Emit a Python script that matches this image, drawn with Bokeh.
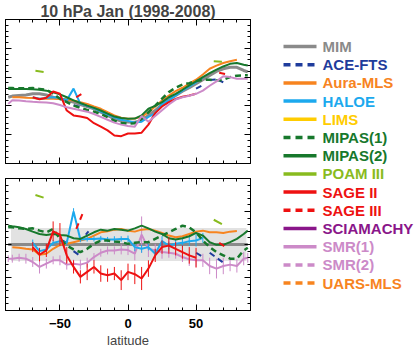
import math
from bokeh.plotting import figure
from bokeh.layouts import row, column
from bokeh.models import LinearAxis, FixedTicker, ColumnDataSource, Range1d
from bokeh.embed import file_html
from bokeh.resources import INLINE
from bokeh.core.properties import value

nan = float("nan")

LAT = [-88, -85, -80, -75, -70, -65, -60, -55, -50, -45, -40, -35, -30, -25, -20, -15, -10, -5,
       0, 5, 10, 15, 20, 25, 30, 35, 40, 45, 50, 55, 60, 65, 70, 75, 80, 85, 88]

# ---- top panel (absolute values) ----
MIM_TOP = [7.30, 7.34, 7.36, 7.38, 7.42, 7.42, 7.38, 7.30, 7.25, 7.19, 7.13, 7.05, 6.98, 6.90, 6.78, 6.67, 6.55, 6.47,
           6.44, 6.43, 6.49, 6.67, 6.84, 7.05, 7.21, 7.36, 7.51, 7.63, 7.77, 7.91, 8.06, 8.20, 8.29, 8.34, 8.34, 8.23, 8.18]
AURA_TOP = [nan, 7.30, 7.30, 7.28, 7.27, 7.25, 7.25, 7.25, 7.24, 7.22, 7.19, 7.13, 7.07, 6.98, 6.90, 6.78, 6.67, 6.59,
            6.55, 6.56, 6.62, 6.78, 6.98, 7.19, 7.36, 7.51, 7.63, 7.77, 7.91, 8.09, 8.29, 8.40, 8.49, 8.55, 8.60, nan, nan]
MIPAS2_TOP = [7.59, 7.59, 7.59, 7.59, 7.58, 7.56, 7.53, 7.47, 7.40, 7.30, 7.19, 7.10, 7.01, 6.93, 6.84, 6.73, 6.63, 6.58,
              6.55, 6.56, 6.67, 6.90, 7.00, 7.13, 7.30, 7.42, 7.56, 7.71, 7.85, 8.00, 8.14, 8.26, 8.37, 8.46, 8.49, 8.43, 8.40]
MIPAS1_TOP = [7.62, 7.62, 7.61, 7.61, 7.62, 7.59, 7.56, 7.42, 7.25, 7.13, 7.01, 6.93, 6.86, 6.80, 6.72, 6.61, 6.49, 6.41,
              6.38, 6.40, 6.55, 6.78, 7.01, 7.25, 7.48, 7.63, 7.74, 7.79, 7.86, 7.91, 7.91, 7.88, 7.91, 8.00, 8.05, 8.06, 8.06]
HALOE_TOP = [nan, nan, nan, nan, 7.30, 7.25, 7.27, 7.30, 7.27, 7.20, 7.60, 7.07, 7.00, 6.92, 6.80, 6.70, 6.60, 6.52,
             6.48, 6.42, 6.45, 6.62, 6.74, 7.07, 7.19, 7.36, 7.53, 7.68, 7.82, 7.98, nan, nan, nan, nan, nan, nan, nan]
SAGE2_TOP = [nan, nan, nan, nan, 7.30, 7.23, 7.28, 7.50, 7.42, 6.84, 6.67, 6.63, 6.58, 6.40, 6.28, 6.15, 5.97, 5.95,
             6.04, 6.04, 6.07, 6.35, 6.75, 6.98, 7.13, 7.24, 7.32, 7.36, 7.42, nan, nan, nan, nan, nan, nan, nan, nan]
SMR1_TOP = [7.07, 7.20, 7.19, 7.16, 7.14, 7.13, 7.12, 7.09, 7.03, 6.95, 6.90, 6.85, 6.80, 6.72, 6.62, 6.52, 6.42, 6.35,
            6.30, 6.28, 6.65, 6.45, 6.65, 6.85, 7.05, 7.22, 7.30, 7.35, 7.42, 7.53, 7.70, 7.85, 8.03, 8.00, 7.94, 7.94, 7.94]

# ---- bottom panel (relative differences) ----
MIM_BOT = [0.0] * len(LAT)
AURA_BOT = [nan, -0.08, -0.10, -0.13, -0.15, -0.31, -0.28, -0.13, -0.01, 0.02, 0.07, 0.12, 0.17, 0.27, 0.37, 0.40, 0.45, 0.47,
            0.42, 0.39, 0.45, 0.47, 0.42, 0.35, 0.27, 0.22, 0.25, 0.32, 0.39, 0.42, 0.37, 0.37, 0.35, 0.39, 0.41, nan, nan]
MIPAS2_BOT = [0.57, 0.55, 0.52, 0.47, 0.39, 0.32, 0.29, 0.32, 0.29, 0.27, 0.19, 0.17, 0.27, 0.37, 0.45, 0.42, 0.47, 0.45,
              0.42, 0.49, 0.57, 0.49, 0.39, 0.32, 0.19, 0.15, 0.19, 0.25, 0.35, 0.27, 0.07, -0.01, -0.01, 0.07, 0.17, 0.32, 0.42]
MIPAS1_BOT = [0.52, 0.52, 0.49, 0.47, 0.49, 0.42, 0.37, 0.47, 0.17, -0.03, -0.15, -0.23, -0.13, 0.02, 0.12, 0.12, 0.09, 0.07,
              0.02, 0.05, 0.07, 0.07, 0.17, 0.27, 0.37, 0.47, 0.57, 0.52, 0.37, 0.12, -0.08, -0.23, -0.33, -0.43, -0.43, -0.18, -0.10]
HALOE_BOT = [nan, nan, nan, nan, 0.05, -0.20, -0.15, 0.05, 0.10, 0.05, 1.00, 0.15, 0.17, 0.17, 0.18, 0.15, 0.15, 0.17,
             0.17, -0.08, -0.13, -0.08, -0.28, 0.10, -0.03, 0.02, 0.05, 0.10, 0.12, 0.20, nan, nan, nan, nan, nan, nan, nan]
HALOE_ERR = [nan, nan, nan, nan, 0.10, 0.10, 0.08, 0.08, 0.10, 0.08, 0.10, 0.08, 0.08, 0.08, 0.08, 0.08, 0.10, 0.08,
             0.10, 0.12, 0.12, 0.10, 0.12, 0.15, 0.12, 0.12, 0.15, 0.15, 0.18, 0.15, nan, nan, nan, nan, nan, nan, nan]
SAGE2_BOT = [nan, nan, nan, nan, -0.08, -0.31, -0.18, 0.40, 0.30, -0.33, -0.68, -0.98, -0.83, -0.68, -0.88, -0.93, -0.88, -1.08,
             -0.83, -0.90, -1.03, -0.73, -0.33, -0.08, -0.03, -0.13, -0.23, -0.33, -0.40, nan, nan, nan, nan, nan, nan, nan, nan]
SAGE2_ERR = [nan, nan, nan, nan, 0.15, 0.20, 0.20, 0.30, 0.35, 0.25, 0.20, 0.20, 0.25, 0.20, 0.25, 0.20, 0.20, 0.30,
             0.25, 0.30, 0.35, 0.25, 0.20, 0.20, 0.25, 0.20, 0.20, 0.25, 0.30, nan, nan, nan, nan, nan, nan, nan, nan]
SMR1_BOT = [-0.43, -0.43, -0.40, -0.43, -0.53, -0.68, -0.58, -0.48, -0.48, -0.61, -0.58, -0.61, -0.55, -0.38, -0.25, -0.18, -0.18, -0.15,
            -0.17, -0.28, 0.30, -0.13, -0.18, -0.23, -0.25, -0.28, -0.38, -0.45, -0.48, -0.48, -0.65, -0.73, -0.65, -0.61, -0.65, -0.43, -0.40]
SMR1_ERR = [0.10, 0.12, 0.12, 0.15, 0.15, 0.20, 0.15, 0.12, 0.15, 0.15, 0.12, 0.15, 0.15, 0.12, 0.12, 0.12, 0.12, 0.15,
            0.15, 0.20, 0.55, 0.25, 0.20, 0.20, 0.15, 0.15, 0.15, 0.20, 0.20, 0.20, 0.25, 0.30, 0.25, 0.20, 0.20, 0.20, 0.15]

# ---- sparse instruments ----
ACE_LAT = [-48, -44, nan, -40, -35, nan, -31, -29, nan, 50, 54, nan, 60, 65, 70]
ACE_TOP = [7.24, 7.19, nan, 7.02, 6.96, nan, 7.00, 7.05, nan, 7.60, 7.70, nan, 7.90, 7.92, 7.82]
ACE_BOT = [0.12, 0.02, nan, -0.20, -0.35, nan, 0.30, 0.40, nan, -0.25, -0.35, nan, -0.25, -0.40, -0.55]
SAGE3_LAT = [-38, -33, nan, 67, 72]
SAGE3_TOP = [7.30, 7.45, nan, 8.15, 8.10]
SAGE3_BOT = [0.47, 0.97, nan, 0.05, -0.08]
POAM_LAT = [-68, -62, nan, 63, 69]
POAM_TOP = [8.22, 8.18, nan, 8.55, 8.53]
POAM_BOT = [1.50, 1.42, nan, 0.75, 0.62]

BAND_LAT = [-86, 87]
BAND_LO = [-0.5, -0.5]
BAND_HI = [0.5, 0.5]

NAMES = ["MIM", "ACE-FTS", "Aura-MLS", "HALOE", "LIMS", "MIPAS(1)", "MIPAS(2)", "POAM III",
         "SAGE II", "SAGE III", "SCIAMACHY", "SMR(1)", "SMR(2)", "UARS-MLS"]
COLORS = ["#8a8a8a", "#1f3c9c", "#f7841f", "#1ca9ee", "#ffcc00", "#17782c", "#17782c", "#88bb1e",
          "#ee1111", "#ee1111", "#8a168a", "#cc8ac8", "#cc8ac8", "#f7841f"]
DASHED = [False, True, False, False, False, True, False, False, False, True, False, False, True, True]
C = dict(zip(NAMES, COLORS))

FONT = "Liberation Sans"
DASH = "6 4"


def style_axis(ax, major, minor, labels=False):
    ax.ticker = FixedTicker(ticks=major, minor_ticks=minor)
    ax.major_tick_in = 6
    ax.major_tick_out = 0
    ax.minor_tick_in = 3
    ax.minor_tick_out = 0
    ax.axis_line_color = "black"
    ax.major_tick_line_color = "black"
    ax.minor_tick_line_color = "black"
    if labels:
        ax.major_label_text_font = FONT
        ax.major_label_text_font_size = "13px"
        ax.major_label_text_font_style = "bold"
        ax.major_label_text_color = "black"
        ax.major_label_standoff = 8
    else:
        ax.major_label_text_color = None
        ax.major_label_text_alpha = 0
        ax.major_label_text_font_size = "1px"
        ax.major_label_standoff = 0


def panel(ylim, ymaj, ymin, h, btop, bbot, xlabels):
    p = figure(width=255, height=h, x_range=Range1d(-90, 90), y_range=Range1d(*ylim),
               output_backend="svg", toolbar_location=None,
               x_axis_location=None, y_axis_location=None,
               min_border_left=5, min_border_right=5, min_border_top=btop, min_border_bottom=bbot)
    p.grid.visible = False
    p.outline_line_color = "black"
    xmaj = [-50, 0, 50]
    xmin = [-80, -70, -60, -40, -30, -20, -10, 10, 20, 30, 40, 60, 70, 80]
    for loc in ["left", "right"]:
        ax = LinearAxis()
        style_axis(ax, ymaj, ymin)
        p.add_layout(ax, loc)
    ax = LinearAxis()
    style_axis(ax, xmaj, xmin)
    p.add_layout(ax, "above")
    ax = LinearAxis()
    style_axis(ax, xmaj, xmin, labels=xlabels)
    if xlabels:
        ax.axis_label = "latitude"
        ax.axis_label_text_font = FONT
        ax.axis_label_text_font_size = "13px"
        ax.axis_label_text_font_style = "normal"
        ax.axis_label_standoff = 2
    p.add_layout(ax, "below")
    return p


# ---------- top panel ----------
p1 = panel((5, 10), [6, 7, 8, 9], [round(5 + 0.2 * i, 1) for i in range(26)], 170, 19, 7, False)
p1.title.text = "10 hPa Jan (1998-2008)"
p1.title.align = "center"
p1.title.text_font = FONT
p1.title.text_font_size = "16px"
p1.title.text_font_style = "bold"
p1.title.standoff = 0
p1.title.offset = 0

top = ColumnDataSource(dict(lat=LAT, mim=MIM_TOP, aura=AURA_TOP, m1=MIPAS1_TOP, m2=MIPAS2_TOP,
                            haloe=HALOE_TOP, sage2=SAGE2_TOP, smr1=SMR1_TOP))
p1.line("lat", "mim", source=top, color=C["MIM"], line_width=3)
p1.line(ACE_LAT, ACE_TOP, color=C["ACE-FTS"], line_width=2, line_dash=DASH)
p1.line("lat", "aura", source=top, color=C["Aura-MLS"], line_width=2)
p1.line("lat", "haloe", source=top, color=C["HALOE"], line_width=2)
p1.line("lat", "m1", source=top, color=C["MIPAS(1)"], line_width=2.5, line_dash=DASH)
p1.line("lat", "m2", source=top, color=C["MIPAS(2)"], line_width=2)
p1.line(POAM_LAT, POAM_TOP, color=C["POAM III"], line_width=2)
p1.line("lat", "sage2", source=top, color=C["SAGE II"], line_width=2)
p1.line(SAGE3_LAT, SAGE3_TOP, color=C["SAGE III"], line_width=2, line_dash=DASH)
p1.line("lat", "smr1", source=top, color=C["SMR(1)"], line_width=2)

# ---------- bottom panel ----------
p2 = panel((-2, 2), [-1, 0, 1], [round(-2 + 0.2 * i, 1) for i in range(21)], 180, 8, 37, True)
p2.varea(x=BAND_LAT, y1=BAND_LO, y2=BAND_HI, fill_color="#e2e2e2")


def err_source(vals, errs):
    lo = [v - e if not (math.isnan(v) or math.isnan(e)) else nan for v, e in zip(vals, errs)]
    hi = [v + e if not (math.isnan(v) or math.isnan(e)) else nan for v, e in zip(vals, errs)]
    return ColumnDataSource(dict(lat=LAT, lo=lo, hi=hi))


bot = ColumnDataSource(dict(lat=LAT, mim=MIM_BOT, aura=AURA_BOT, m1=MIPAS1_BOT, m2=MIPAS2_BOT,
                            haloe=HALOE_BOT, sage2=SAGE2_BOT, smr1=SMR1_BOT))
p2.line("lat", "mim", source=bot, color=C["MIM"], line_width=3)
p2.segment("lat", "lo", "lat", "hi", source=err_source(SMR1_BOT, SMR1_ERR), color=C["SMR(1)"], line_width=1)
p2.line("lat", "smr1", source=bot, color=C["SMR(1)"], line_width=2)
p2.line(ACE_LAT, ACE_BOT, color=C["ACE-FTS"], line_width=2, line_dash=DASH)
p2.line("lat", "aura", source=bot, color=C["Aura-MLS"], line_width=2)
p2.segment("lat", "lo", "lat", "hi", source=err_source(HALOE_BOT, HALOE_ERR), color=C["HALOE"], line_width=1)
p2.line("lat", "haloe", source=bot, color=C["HALOE"], line_width=2)
p2.line("lat", "m1", source=bot, color=C["MIPAS(1)"], line_width=2.5, line_dash=DASH)
p2.line("lat", "m2", source=bot, color=C["MIPAS(2)"], line_width=2)
p2.line(POAM_LAT, POAM_BOT, color=C["POAM III"], line_width=2)
p2.segment("lat", "lo", "lat", "hi", source=err_source(SAGE2_BOT, SAGE2_ERR), color=C["SAGE II"], line_width=1)
p2.line("lat", "sage2", source=bot, color=C["SAGE II"], line_width=2)
p2.line(SAGE3_LAT, SAGE3_BOT, color=C["SAGE III"], line_width=2, line_dash=DASH)

# ---------- legend ----------
pl = figure(width=160, height=350, x_range=Range1d(0, 160), y_range=Range1d(350, 0),
            output_backend="svg", toolbar_location=None, x_axis_location=None, y_axis_location=None,
            min_border=0)
pl.grid.visible = False
pl.outline_line_color = None
for i, (name, col, dashed) in enumerate(zip(NAMES, COLORS, DASHED)):
    y = 46 + i * 18.2
    pl.line([28, 61], [y, y], color=col, line_width=3.5, line_dash="7 5" if dashed else "solid")
    pl.text([67], [y], text=[name], text_color=col, text_font=value(FONT), text_font_size="15px",
            text_font_style="bold", text_baseline="middle", text_align="left")

layout = row(column(p1, p2), pl)
open("out.html", "w").write(file_html(layout, INLINE))
